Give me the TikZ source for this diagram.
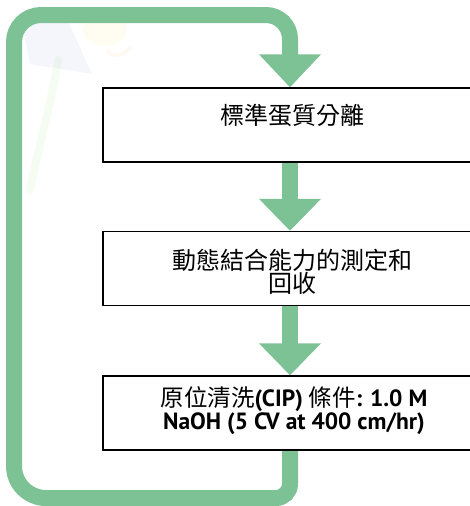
\documentclass[tikz,border=0pt]{standalone}
\usepackage{fontspec}
\setmainfont{PT Sans}
\newfontfamily\cjk{Noto Sans CJK TC}
\usetikzlibrary{arrows.meta,calc}
\definecolor{loopgreen}{RGB}{125,194,148}
\newcommand\zh[1]{{\cjk\mdseries\fontsize{23.5}{21}\selectfont #1}}
\begin{document}
\begin{tikzpicture}[x=1pt,y=-1pt,
  stepbox/.style={draw=black,line width=1.3pt,minimum width=374pt,minimum height=74pt,inner sep=0pt,fill=white},
  flow/.style={line width=16pt,draw=loopgreen,-{Triangle[width=60pt,length=32pt]}},
  cjktext/.style={font=\cjk\fontsize{24}{23}\selectfont,align=center,inner sep=0pt},
  latintext/.style={font=\fontsize{23.5}{21}\selectfont\bfseries,align=center,inner sep=0pt},
  wm/.style={opacity=0.05}
]
\useasboundingbox (0,0) rectangle (470,506);
% faint watermark
\fill[wm,fill=blue!50!gray] (20,14) -- (62,8) -- (92,74) -- (30,64) -- cycle;
\fill[wm,fill=yellow!80!orange] (105,30) ellipse (22pt and 16pt);
\draw[wm,draw=orange,line width=4pt,line cap=round] (108,52) .. controls (118,58) and (124,54) .. (130,48);
\draw[wm,draw=green!50!olive,line width=8pt,line cap=round] (58,60) .. controls (50,110) and (40,140) .. (30,190);
% boxes
\node[stepbox] (b1) at (290,125) {};
\node[stepbox] (b2) at (290,268.5) {};
\node[stepbox] (b3) at (290,413) {};
% loop
\draw[line width=16pt,draw=loopgreen,-{Triangle[width=60pt,length=33pt]}]
  (b3.south) [rounded corners=14pt] -- (290,498) [rounded corners=32pt] -- (14,498)
  [rounded corners=27pt] -- (14,15) [rounded corners=24pt] -- (290,15) -- (b1.north);
% redraw boxes over loop ends
\node[stepbox] at (b1) {};
\node[stepbox] at (b2) {};
\node[stepbox] at (b3) {};
% flow arrows
\draw[flow] (b1.south) -- (b2.north);
\draw[flow] (b2.south) -- (b3.north);
% texts
\node[cjktext] (t1) at (292,115) {標準蛋質分離};
\node[cjktext] (t2) at (292,272) {動態結合能力的測定和\\回收};
\node[latintext] (t3) at (294,411) {\zh{原位清洗}(CIP) \zh{條件}: 1.0 M\\NaOH (5 CV at 400 cm/hr)};
\end{tikzpicture}
\end{document}
